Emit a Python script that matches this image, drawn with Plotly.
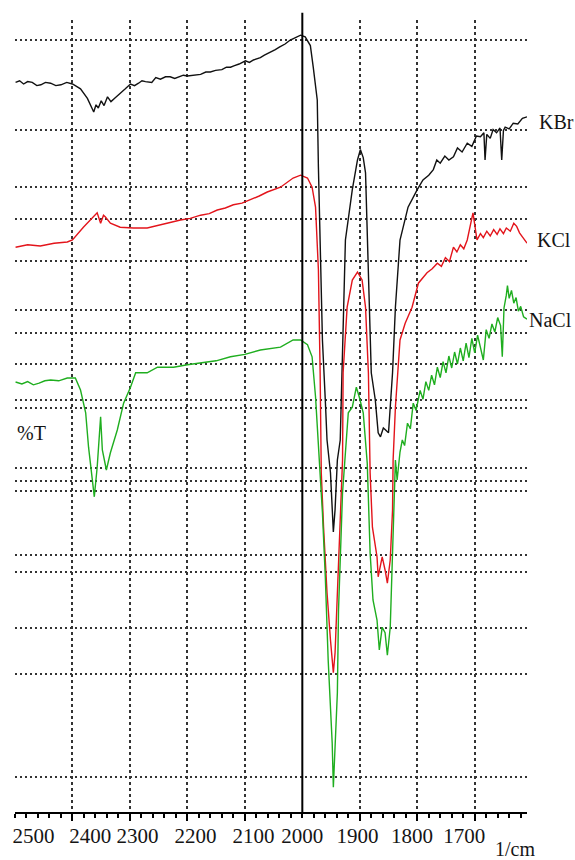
import plotly.graph_objects as go

# ---------------- data ----------------
kbr_wn = [2499, 2492, 2485, 2478, 2470, 2462, 2455, 2447, 2438, 2429, 2420, 2410, 2400, 2386, 2374,
          2366, 2363, 2359, 2355, 2350, 2345, 2339, 2333, 2327, 2317, 2308, 2299, 2292, 2285, 2279,
          2273, 2262, 2255, 2247, 2238, 2230, 2222, 2215, 2207, 2200, 2190, 2177, 2168, 2160, 2151,
          2140, 2132, 2125, 2118, 2110, 2099, 2092, 2085, 2073, 2066, 2060, 2047, 2040, 2030, 2021,
          2010, 2003, 1995, 1986, 1981, 1974, 1972, 1969, 1967, 1965, 1960, 1957, 1951, 1946, 1943,
          1939, 1934, 1930, 1925, 1913, 1904, 1899, 1894, 1890, 1885, 1880, 1873, 1868, 1864, 1861,
          1859, 1856, 1850, 1843, 1838, 1830, 1816, 1800, 1790, 1780, 1772, 1766, 1760, 1752, 1745,
          1737, 1730, 1722, 1713, 1705, 1697, 1690, 1684, 1682, 1679, 1673, 1668, 1662, 1656, 1653,
          1650, 1647, 1640, 1633, 1625, 1617, 1609]
kbr_t = [91.2, 91.4, 91.0, 91.3, 91.2, 90.8, 90.9, 91.2, 91.1, 90.8, 90.9, 91.2, 91.0, 90.4, 89.2,
         88.0, 87.5, 88.4, 88.0, 88.9, 88.3, 89.4, 88.8, 89.2, 89.9, 90.4, 91.0, 90.8, 91.1, 91.4,
         91.3, 91.2, 91.8, 91.6, 91.9, 91.9, 91.7, 91.9, 92.1, 92.0, 92.1, 92.2, 92.5, 92.5, 92.7,
         92.8, 93.1, 93.1, 93.3, 93.5, 93.9, 93.7, 94.0, 94.3, 94.6, 94.8, 95.3, 95.6, 96.0, 96.5,
         96.9, 97.1, 96.9, 95.8, 93.1, 89.0, 80.6, 72.4, 64.0, 59.0, 51.5, 46.5, 42.4, 35.0, 37.8,
         44.0, 46.5, 59.0, 71.5, 77.8, 81.5, 82.8, 81.8, 79.9, 67.4, 54.9, 51.5, 47.4, 46.9, 47.6,
         48.0, 47.8, 47.4, 54.9, 63.1, 71.5, 75.6, 77.8, 79.0, 79.6, 80.3, 81.5, 81.1, 82.0, 81.5,
         81.9, 83.0, 82.5, 83.6, 83.2, 84.5, 84.4, 84.9, 81.5, 84.7, 84.2, 85.3, 84.9, 85.5, 81.5,
         85.2, 85.6, 85.4, 86.1, 86.0, 86.7, 86.9]

kcl_wn = [2499, 2478, 2456, 2432, 2409, 2400, 2381, 2369, 2357, 2351, 2346, 2343, 2334, 2317, 2294,
          2270, 2247, 2230, 2212, 2195, 2177, 2162, 2148, 2134, 2120, 2105, 2090, 2075, 2061, 2038,
          2016, 2003, 1991, 1983, 1977, 1974, 1972, 1969, 1967, 1963, 1957, 1951, 1946, 1943, 1937,
          1930, 1929, 1922, 1913, 1904, 1896, 1890, 1885, 1882, 1878, 1870, 1868, 1864, 1861, 1856,
          1852, 1847, 1843, 1842, 1838, 1830, 1821, 1809, 1798, 1783, 1774, 1765, 1758, 1751, 1744,
          1737, 1731, 1725, 1719, 1713, 1703, 1696, 1690, 1685, 1679, 1673, 1667, 1661, 1656, 1650,
          1645, 1638, 1632, 1627, 1622, 1617, 1609]
kcl_t = [70.6, 70.9, 70.75, 71.1, 71.25, 71.5, 73.1, 74.0, 74.9, 73.6, 74.6, 74.4, 73.6, 73.1, 73.0,
         73.0, 73.4, 73.6, 74.0, 74.2, 74.6, 74.8, 75.25, 75.5, 75.9, 76.1, 76.5, 77.0, 77.5, 78.1,
         79.25, 79.6, 79.25, 78.1, 75.6, 71.5, 67.75, 54.9, 42.4, 35.6, 27.4, 21.5, 17.4, 19.9, 31.5,
         44.0, 54.9, 63.1, 66.5, 67.5, 66.5, 63.1, 54.9, 42.4, 35.6, 31.9, 29.4, 30.9, 31.9, 30.25,
         28.6, 31.5, 37.75, 44.0, 50.6, 59.0, 61.1, 63.1, 66.1, 67.4, 67.9, 68.6, 68.2, 69.3, 68.8,
         70.6, 70.0, 70.9, 70.4, 71.5, 74.9, 71.5, 72.3, 71.8, 72.6, 72.0, 72.8, 72.2, 72.9, 72.3,
         73.0, 72.6, 73.6, 73.2, 72.4, 71.9, 71.1]

nacl_wn = [2499, 2488, 2478, 2468, 2458, 2448, 2438, 2424, 2409, 2395, 2386, 2377, 2372, 2365, 2362,
           2357, 2351, 2348, 2341, 2334, 2322, 2311, 2299, 2290, 2270, 2252, 2224, 2200, 2177, 2150,
           2125, 2100, 2073, 2055, 2038, 2016, 2003, 1991, 1983, 1977, 1972, 1965, 1960, 1955, 1948,
           1946, 1939, 1937, 1930, 1925, 1920, 1913, 1906, 1901, 1894, 1887, 1882, 1877, 1870, 1866,
           1861, 1856, 1852, 1847, 1843, 1838, 1835, 1830, 1826, 1822, 1817, 1812, 1807, 1802, 1795,
           1790, 1785, 1780, 1775, 1770, 1765, 1760, 1755, 1750, 1745, 1740, 1735, 1730, 1725, 1720,
           1715, 1710, 1705, 1700, 1695, 1690, 1685, 1680, 1675, 1670, 1665, 1660, 1655, 1652, 1649,
           1645, 1643, 1640, 1636, 1632, 1628, 1624, 1620, 1615, 1609]
nacl_t = [53.75, 53.5, 53.8, 53.4, 53.6, 53.9, 54.0, 53.9, 54.25, 54.25, 52.75, 49.9, 45.6, 41.5, 39.4,
          43.1, 49.4, 45.25, 42.75, 44.9, 47.75, 51.1, 53.1, 54.9, 54.9, 55.6, 55.6, 55.9, 56.1, 56.4,
          56.9, 57.2, 57.75, 57.9, 58.1, 59.0, 59.0, 58.4, 56.9, 51.9, 45.6, 37.4, 29.4, 19.0, 8.6,
          3.1, 14.9, 25.25, 39.9, 45.6, 49.9, 50.6, 53.1, 51.9, 49.9, 43.6, 32.4, 26.5, 24.0, 20.25,
          23.1, 22.4, 19.6, 23.1, 31.5, 44.0, 41.5, 45.0, 46.5, 45.8, 48.6, 47.9, 51.1, 50.2, 52.7,
          51.6, 53.8, 52.7, 54.6, 53.4, 55.6, 54.3, 56.3, 54.9, 57.0, 55.5, 57.5, 56.0, 58.0, 56.4,
          58.6, 56.8, 59.2, 57.4, 59.6, 58.0, 56.5, 60.3, 59.2, 61.0, 60.0, 61.8, 60.8, 56.9, 63.0,
          64.6, 65.8, 64.2, 65.2, 63.6, 64.3, 62.6, 63.2, 61.9, 61.6]

series_names = ["KBr", "KCl", "NaCl"]
series_colors = ["#111111", "#e3141b", "#1fae1f"]

# grid lines of the scanned chart
x_grid = [2400, 2300, 2200, 2100, 1900, 1800, 1700]
y_grid = [96.5, 85.25, 78.1, 74.1, 68.9, 62.75, 59.9, 56.0, 51.5, 50.5, 43.0, 41.4, 40.1,
          32.1, 30.0, 23.0, 17.25, 4.4]
marker_line_x = 2000

# tick labels and where they appear under the axis
tick_labels = ["2500", "2400", "2300", "2200", "2100", "2000", "1900", "1800", "1700"]
tick_label_pos = [2468, 2369, 2287, 2186, 2085, 2000, 1904, 1809, 1718]

x_range = [2500, 1609]
y_range = [0, 99]

FONT = "Liberation Serif"
TXT = "#151515"

fig = go.Figure()
for wn, t, name, col in zip([kbr_wn, kcl_wn, nacl_wn], [kbr_t, kcl_t, nacl_t], series_names, series_colors):
    fig.add_trace(go.Scatter(x=wn, y=t, mode="lines", name=name,
                             line=dict(color=col, width=1.4), showlegend=False))

# empty trace to bring up the labelling axis
fig.add_trace(go.Scatter(x=[], y=[], xaxis="x2", showlegend=False))

fig.add_vline(x=marker_line_x, line=dict(color="black", width=2), y0=0, y1=1.009)

fig.update_layout(
    width=575, height=860,
    margin=dict(l=15, r=48, t=20, b=48, autoexpand=False),
    paper_bgcolor="white", plot_bgcolor="white",
    font=dict(family=FONT, size=20, color=TXT),
    xaxis=dict(range=x_range, tickvals=x_grid, showticklabels=False,
               showgrid=True, gridcolor="#333333", gridwidth=1.6, griddash="3px,3px",
               ticks="outside", ticklen=7, tickwidth=2, tickcolor="black",
               showline=True, linecolor="black", linewidth=2, zeroline=False,
               minor=dict(dtick=20, tick0=2000, ticks="outside", ticklen=4, tickwidth=1.5,
                          tickcolor="black", showgrid=False)),
    xaxis2=dict(range=x_range, overlaying="x", anchor="y", side="bottom",
                tickvals=tick_label_pos, ticktext=tick_labels, ticks="",
                ticklabelstandoff=9,
                showgrid=False, showline=False, zeroline=False,
                tickfont=dict(family=FONT, size=21, color=TXT)),
    yaxis=dict(range=y_range, tickvals=y_grid, showticklabels=False, ticks="",
               showgrid=True, gridcolor="#333333", gridwidth=2, griddash="2px,3px",
               showline=False, zeroline=False),
)

ann = dict(showarrow=False, font=dict(family=FONT, size=20, color=TXT),
           xref="paper", yref="paper")
fig.add_annotation(text="KBr", x=1.0195, y=0.871, xanchor="left", yanchor="middle", **ann)
fig.add_annotation(text="KCl", x=1.0156, y=0.722, xanchor="left", yanchor="middle", **ann)
fig.add_annotation(text="NaCl", x=1.0, y=0.621, xanchor="left", yanchor="middle", **ann)
fig.add_annotation(text="%T", x=0.0, y=0.478, xanchor="left", yanchor="middle", **ann)
fig.add_annotation(text="1/cm", x=0.977, y=-0.0465, xanchor="center", yanchor="middle", **ann)

fig.write_html("out.html", config={"displayModeBar": False},
               post_script="document.body.style.margin='0';document.body.style.overflow='hidden';")
